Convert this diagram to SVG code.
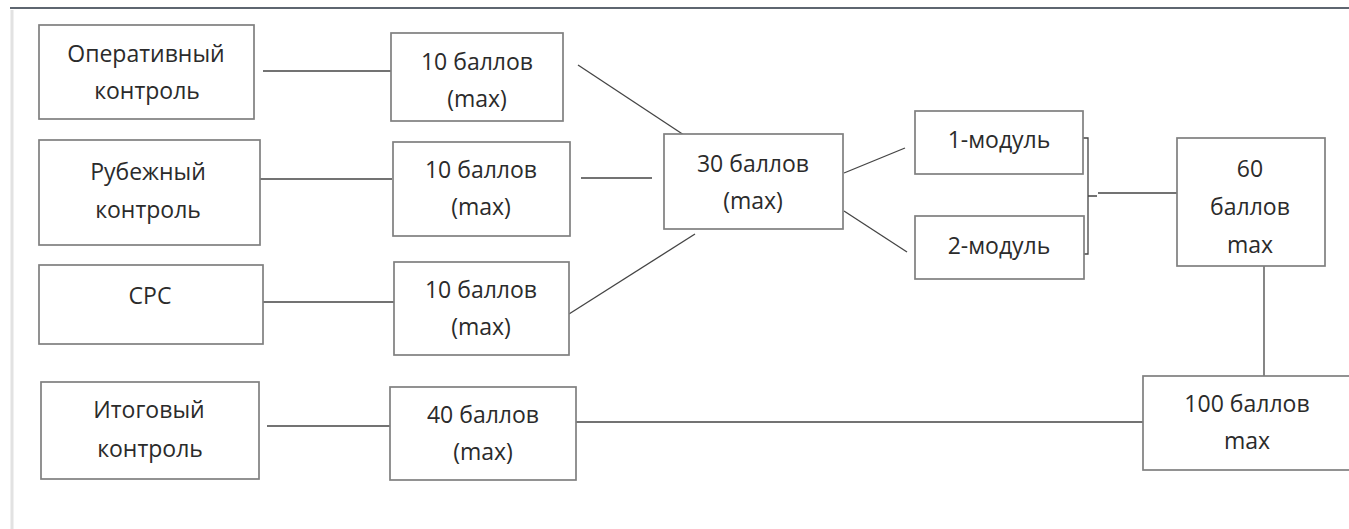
<svg xmlns="http://www.w3.org/2000/svg" width="1349" height="529" viewBox="0 0 1349 529">
<style>
  .box { fill: #ffffff; stroke: #7f7f7f; stroke-width: 1.7; }
  .lbl { font-family: "Open Sans", "Noto Sans", "DejaVu Sans", sans-serif; font-size: 23px; fill: #2b2b2b; text-anchor: middle; }
  .conn { fill: none; stroke: #444444; stroke-width: 1.3; }
</style>
<rect x="0" y="0" width="1349" height="529" fill="#ffffff"/>
<g id="scan-edges">
  <line x1="10" y1="8" x2="1349" y2="8" stroke="#5e6670" stroke-width="2"/>
  <line x1="12" y1="10" x2="12" y2="529" stroke="#e2e2e2" stroke-width="3"/>
</g>
<g id="connectors">
  <path class="conn" d="M263,71 H393"/>
  <path class="conn" d="M260,179 H392"/>
  <path class="conn" d="M263,302 H394"/>
  <path class="conn" d="M267,426 H390" stroke="#777"/>
  <path class="conn" d="M578,65 L690,139"/>
  <path class="conn" d="M581,178 H652"/>
  <path class="conn" d="M569,314 L695,234"/>
  <path class="conn" d="M844,173 L905,148"/>
  <path class="conn" d="M844,211 L907,252"/>
  <path class="conn" d="M1083,138 H1088 V254 H1083 M1088,196 H1097"/>
  <path class="conn" d="M1098,193 H1178"/>
  <path class="conn" d="M1264,266 V377"/>
  <path class="conn" d="M570,422 H1143"/>
</g>
<g id="n-operativny">
  <rect class="box" x="39" y="25" width="215" height="94"/>
  <text class="lbl" x="146" y="62">Оперативный</text>
  <text class="lbl" x="147" y="99">контроль</text>
</g>
<g id="n-rubezhny">
  <rect class="box" x="39" y="140" width="221" height="105"/>
  <text class="lbl" x="148" y="180">Рубежный</text>
  <text class="lbl" x="148" y="218">контроль</text>
</g>
<g id="n-srs">
  <rect class="box" x="39" y="265" width="224" height="79"/>
  <text class="lbl" x="150" y="304">СРС</text>
</g>
<g id="n-itogovy">
  <rect class="box" x="41" y="382" width="218" height="97"/>
  <text class="lbl" x="149" y="418">Итоговый</text>
  <text class="lbl" x="150" y="457">контроль</text>
</g>
<g id="n-10a">
  <rect class="box" x="391" y="33" width="172" height="88"/>
  <text class="lbl" x="477" y="70">10 баллов</text>
  <text class="lbl" x="477" y="107">(max)</text>
</g>
<g id="n-10b">
  <rect class="box" x="393" y="142" width="177" height="94"/>
  <text class="lbl" x="481" y="178">10 баллов</text>
  <text class="lbl" x="481" y="215">(max)</text>
</g>
<g id="n-10c">
  <rect class="box" x="394" y="262" width="175" height="93"/>
  <text class="lbl" x="481" y="298">10 баллов</text>
  <text class="lbl" x="481" y="335">(max)</text>
</g>
<g id="n-40">
  <rect class="box" x="390" y="387" width="186" height="93"/>
  <text class="lbl" x="483" y="423">40 баллов</text>
  <text class="lbl" x="483" y="460">(max)</text>
</g>
<g id="n-30">
  <rect class="box" x="664" y="134" width="179" height="95"/>
  <text class="lbl" x="753" y="172">30 баллов</text>
  <text class="lbl" x="753" y="209">(max)</text>
</g>
<g id="n-mod1">
  <rect class="box" x="915" y="111" width="168" height="63"/>
  <text class="lbl" x="999" y="148">1-модуль</text>
</g>
<g id="n-mod2">
  <rect class="box" x="915" y="216" width="169" height="63"/>
  <text class="lbl" x="999" y="254">2-модуль</text>
</g>
<g id="n-60">
  <rect class="box" x="1177" y="138" width="148" height="128"/>
  <text class="lbl" x="1250" y="177">60</text>
  <text class="lbl" x="1250" y="215">баллов</text>
  <text class="lbl" x="1250" y="253">max</text>
</g>
<g id="n-100">
  <rect class="box" x="1143" y="376" width="215" height="94"/>
  <text class="lbl" x="1247" y="412">100 баллов</text>
  <text class="lbl" x="1247" y="449">max</text>
</g>
</svg>
